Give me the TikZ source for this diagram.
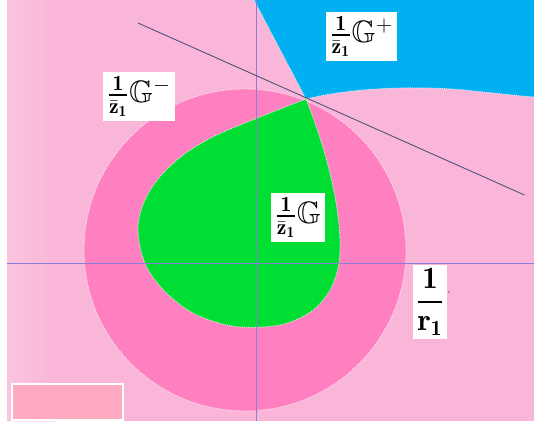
\RequirePackage{fix-cm}
\documentclass[tikz,border=0pt]{standalone}
\usepackage{amsmath,amssymb}
\usepackage{fontspec}
\definecolor{bgpink}{RGB}{250,182,216}
\definecolor{ringpink}{RGB}{255,128,192}
\definecolor{tgreen}{RGB}{0,222,52}
\definecolor{tblue}{RGB}{0,176,240}
\definecolor{axiscol}{RGB}{138,125,215}
\definecolor{tancol}{RGB}{80,82,125}
\definecolor{salmon}{RGB}{255,170,192}
\tikzset{
  lab/.style={fill=white, inner sep=4pt, font=\fontsize{20}{24}\selectfont},
  edge/.style={white, opacity=0.75, line width=0.9pt, densely dotted},
  axis/.style={axiscol, line width=0.9pt},
}
\newcommand{\lbl}[1]{\scalebox{1.55}{#1}}
\def\dropcoords{(306,99) (256.7,118.3) (213.3,136.7) (183.3,155) (160,176.7) (145,200) (138.3,223.3) (140,246.7) (148.3,270) (166.7,293.3) (193.3,313.3) (226.7,325) (256.7,327.3) (286.7,323.3) (313.3,310) (330,290) (338.3,266.7) (340,240) (336.7,206.7) (330,173.3) (321.7,143.3) (313.3,118.3) (306,99)}
\begin{document}
\begin{tikzpicture}[x=1pt,y=-1pt]
\useasboundingbox (0,0) rectangle (534,423);
\fill[white] (0,0) rectangle (534,423);
% background
\fill[bgpink] (7,0) rectangle (534,421);
\shade[left color=white!40!bgpink, right color=bgpink, opacity=0.5] (7,0) rectangle (55,421);
% blue region
\fill[tblue] (254,0) -- (306,99) .. controls (350,88) and (420,84) .. (483,92) .. controls (505,94) and (520,96) .. (534,97) -- (534,0) -- cycle;
\draw[edge] (254,0) -- (306,99) .. controls (350,88) and (420,84) .. (483,92) .. controls (505,94) and (520,96) .. (534,97);
% ring
\fill[ringpink] (245,250) circle[radius=161];
\draw[edge] (245,250) circle[radius=161];
% green teardrop
\fill[tgreen] plot[smooth, tension=0.55] coordinates {\dropcoords} -- cycle;
\draw[edge] plot[smooth, tension=0.55] coordinates {\dropcoords};
% axes
\coordinate (vt) at (256,0);
\coordinate (vb) at (256,421);
\coordinate (hl) at (7,263);
\coordinate (hr) at (534,263);
\draw[axis] (vt) -- (vb);
\draw[axis] (hl) -- (hr);
% tangent line
\coordinate (t1) at (138,23);
\coordinate (t2) at (524.5,195);
\draw[tancol, line width=0.9pt] (t1) -- (t2);
% bottom-left rectangle
\node[draw=white, line width=1.5pt, fill=salmon, minimum width=111pt, minimum height=36pt, inner sep=0pt] (leg) at (67.5,402) {};
% labels
\node[lab] (gplus) at (361.5,36.5) {\lbl{$\frac{\mathbf{1}}{\bar{\mathbf{z}}_{\mathbf{1}}}\mathbb{G}^{+}$}};
\node[lab] (gminus) at (139,96.5) {\lbl{$\frac{\mathbf{1}}{\bar{\mathbf{z}}_{\mathbf{1}}}\mathbb{G}^{-}$}};
\node[lab] (g) at (298,217.5) {\lbl{$\frac{\mathbf{1}}{\bar{\mathbf{z}}_{\mathbf{1}}}\mathbb{G}$}};
\node[lab, inner sep=3pt] (r1) at (430,302) {\lbl{$\dfrac{\mathbf{1}}{\mathbf{r}_{\mathbf{1}}}$}};
\fill[black] (449,292) circle[radius=0.7] coordinate (dot);
\end{tikzpicture}
\end{document}
